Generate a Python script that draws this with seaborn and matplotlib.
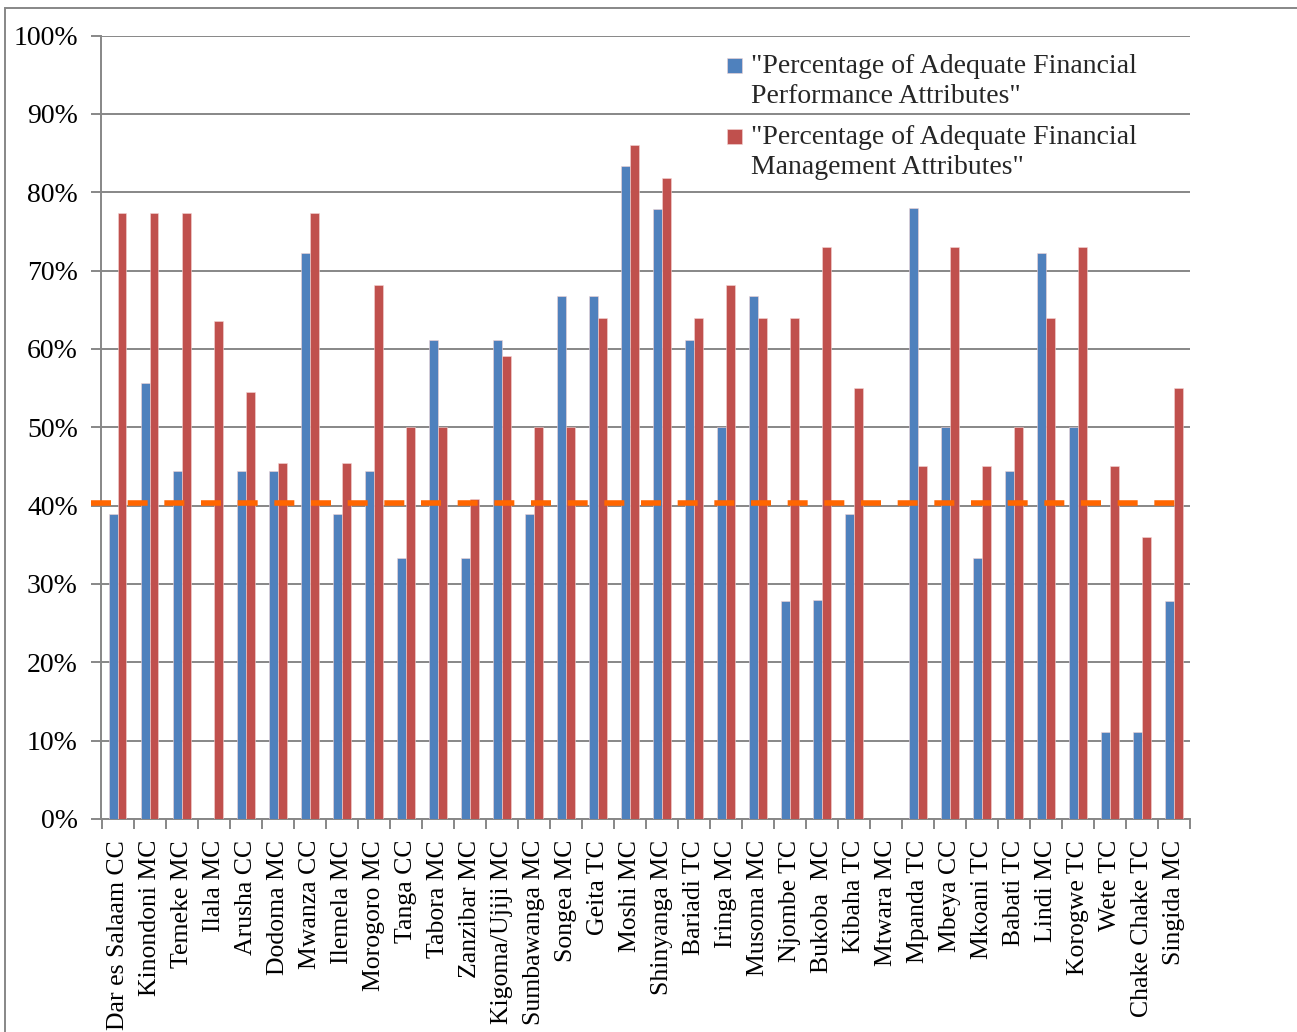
import matplotlib
matplotlib.use("Agg")
import matplotlib.pyplot as plt
import matplotlib.transforms as mtransforms
from matplotlib.patches import Rectangle
from matplotlib.legend_handler import HandlerPatch
import numpy as np
import pandas as pd
import seaborn as sns

# Councils and their adequacy scores (percent)
councils = [
    "Dar es Salaam CC", "Kinondoni MC", "Temeke MC", "Ilala MC", "Arusha CC",
    "Dodoma MC", "Mwanza CC", "Ilemela MC", "Morogoro MC", "Tanga CC",
    "Tabora MC", "Zanzibar MC", "Kigoma/Ujiji MC", "Sumbawanga MC", "Songea MC",
    "Geita TC", "Moshi MC", "Shinyanga MC", "Bariadi TC", "Iringa MC",
    "Musoma MC", "Njombe TC", "Bukoba  MC", "Kibaha TC", "Mtwara MC",
    "Mpanda TC", "Mbeya CC", "Mkoani TC", "Babati TC", "Lindi MC",
    "Korogwe TC", "Wete TC", "Chake Chake TC", "Singida MC",
]
performance = [
    38.9, 55.6, 44.4, 0.0, 44.4, 44.4, 72.2, 38.9, 44.4, 33.3,
    61.1, 33.3, 61.1, 38.9, 66.7, 66.7, 83.3, 77.8, 61.1, 50.0,
    66.7, 27.8, 28.0, 38.9, 0.0, 78.0, 50.0, 33.3, 44.4, 72.2,
    50.0, 11.1, 11.1, 27.8,
]
management = [
    77.3, 77.3, 77.3, 63.6, 54.5, 45.5, 77.3, 45.5, 68.2, 50.0,
    50.0, 40.9, 59.1, 50.0, 50.0, 64.0, 86.0, 81.8, 64.0, 68.2,
    64.0, 64.0, 73.0, 55.0, 0.0, 45.0, 73.0, 45.0, 50.0, 64.0,
    73.0, 45.0, 36.0, 55.0,
]
series_names = [
    '"Percentage of Adequate Financial\nPerformance Attributes"',
    '"Percentage of Adequate Financial\nManagement Attributes"',
]
threshold = 40.3

df = pd.DataFrame({
    "council": councils * 2,
    "value": performance + management,
    "series": [series_names[0]] * len(councils) + [series_names[1]] * len(councils),
})

sns.set_theme(style="white")
plt.rcParams["font.family"] = ["Liberation Serif", "DejaVu Serif"]

W, H = 1297, 1032
fig = plt.figure(figsize=(W / 100, H / 100), dpi=100)
ax = fig.add_axes([101.5 / W, 1 - 819 / H, (1190 - 101.5) / W, (819 - 35.5) / H])

grid_col = "#878787"
sns.barplot(
    data=df, x="council", y="value", hue="series", order=councils,
    hue_order=series_names, palette=["#4F81BD", "#C0504D"],
    width=0.56, gap=0, ax=ax, saturation=1, errorbar=None,
    edgecolor="#f3d4d4", linewidth=0.4, legend=True, zorder=3,
)

ax.set_ylim(0, 100)
ax.set_xlim(-0.5, len(councils) - 0.5)
ax.set_yticks(np.arange(0, 101, 10))
ax.set_yticklabels([f"{v}%" for v in range(0, 101, 10)], fontsize=20, color="black")
ax.yaxis.grid(True, color=grid_col, linewidth=1.4, zorder=0)
ax.set_axisbelow(True)
ax.set_xlabel("")
ax.set_ylabel("")

ax.set_xticks(np.arange(len(councils)))
ax.set_xticklabels(councils, rotation=90, fontsize=18.5, color="black", va="top")
ax.set_xticks(np.arange(len(councils) + 1) - 0.5, minor=True)
ax.tick_params(axis="x", which="major", length=0, pad=15)
ax.tick_params(axis="x", which="minor", length=7, width=1.4, color=grid_col, bottom=True)
ax.tick_params(axis="y", which="major", length=7, width=1.4, color=grid_col, left=True, pad=10)

for side in ("top", "right"):
    ax.spines[side].set_visible(False)
for side in ("left", "bottom"):
    ax.spines[side].set_color(grid_col)
    ax.spines[side].set_linewidth(1.4)

# dashed reference line, reaching slightly past the left axis
trans = mtransforms.blended_transform_factory(ax.transAxes, ax.transData)
ax.plot([-0.01, 0.997], [threshold, threshold], transform=trans, color="#FF6600",
        linewidth=4, linestyle=(0, (3.6, 3.0)), clip_on=False, zorder=4)


# legend swatch sitting beside the first line of a two-line label
def top_square(legend, orig_handle, xdescent, ydescent, width, height, fontsize):
    side = 0.54 * fontsize
    return Rectangle((-xdescent, -ydescent + 0.6 * fontsize), side, side)


leg_handles, leg_labels = ax.get_legend_handles_labels()
leg = ax.legend(
    leg_handles, leg_labels,
    loc="upper left", bbox_to_anchor=(0.5645, 0.991), frameon=False,
    fontsize=20, handlelength=0.54, handleheight=0.54, handletextpad=0.33,
    labelspacing=0.55, borderaxespad=0,
    handler_map={type(leg_handles[0]): HandlerPatch(patch_func=top_square)},
)
for t in leg.get_texts():
    t.set_linespacing(1.3)

# outer chart-area frame
fig.patches.append(Rectangle((5 / W, -0.05), 1.1, 1 - 8 / H + 0.05,
                             transform=fig.transFigure, fill=False,
                             edgecolor=grid_col, linewidth=1.4))

fig.savefig("out.png", dpi=100, facecolor="white")
